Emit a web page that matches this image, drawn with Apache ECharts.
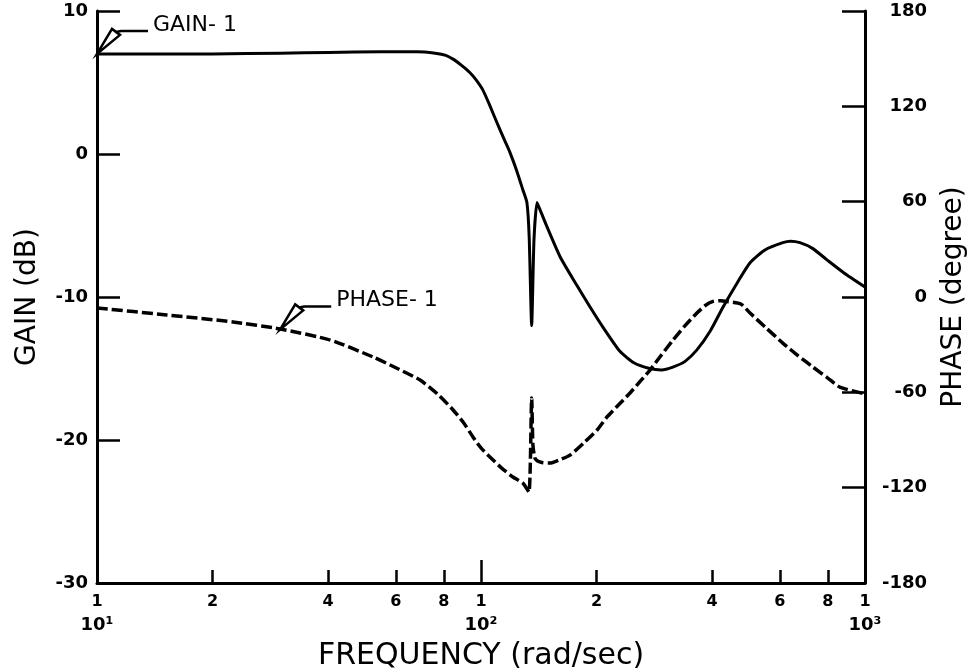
<!DOCTYPE html>
<html>
<head>
<meta charset="utf-8">
<script src="https://cdn.jsdelivr.net/npm/echarts@6/dist/echarts.min.js"></script>
<style>
  html, body { margin: 0; padding: 0; background: #fff; }
  #chart { width: 969px; height: 671px; }
</style>
</head>
<body>
<div id="chart"></div>
<script>
// 增益曲线 (rad/sec, dB)
var gainFreq = [10, 15, 20, 30, 40, 55, 68, 76, 81, 85, 89, 93.5, 97, 101, 105, 110, 115, 119, 124, 128.5,
    131.7, 133.5, 135.5, 137.4, 139.9, 142, 148.6, 160.8, 177.8, 192.3, 210, 230, 250, 275, 295, 316,
    340, 365, 395, 427, 465, 502, 550, 611, 640, 677, 730, 796, 880, 1000];
var gainDb = [7.0, 7.0, 7.0, 7.05, 7.1, 7.15, 7.15, 7.05, 6.9, 6.6, 6.2, 5.7, 5.2, 4.5, 3.5, 2.2, 1.0, 0.1, -1.2, -2.5,
    -3.4, -5.8, -12.0, -6.0, -3.4, -3.8, -5.1, -7.2, -9.2, -10.7, -12.3, -13.8, -14.6, -15.0, -15.1, -14.9,
    -14.5, -13.7, -12.4, -10.7, -9.0, -7.6, -6.7, -6.2, -6.1, -6.2, -6.6, -7.4, -8.3, -9.3];

// 相位曲线 (rad/sec, degree)
var phaseFreq = [10, 15.2, 22.6, 30, 40.5, 52.4, 60, 69.4, 77, 84.6, 90, 95.3, 100, 105.5, 113, 121.1, 128.5,
    133.3, 135.5, 136.5, 138, 140, 145, 151.2, 160, 170.6, 185, 200.6, 212.9, 228, 244.4, 260, 275.5, 295,
    316.2, 340, 365, 383, 402, 420, 437, 475, 502, 550, 611, 670, 732, 800, 860, 1000];
var phaseDeg = [-6.9, -11.3, -15.7, -20.1, -27.1, -37.8, -44.5, -52.3, -61, -71.1, -79, -88.1, -95, -100.7, -107.5,
    -113.3, -117.1, -122.7, -63.6, -93, -101, -103, -104.3, -104.5, -102.5, -99.5, -92, -83.7, -75.5, -68, -60.4,
    -53, -46.0, -36.5, -27.1, -18, -10.1, -5.5, -2.8, -2.3, -2.8, -4.4, -10.1, -19, -29.0, -37, -44.1, -51, -56.7, -61];

// 坐标轴刻度
var minorTicks = [20, 40, 60, 80, 200, 400, 600, 800];
var decadeTicks = [100];
var xLabelValues = [10, 20, 40, 60, 80, 100, 200, 400, 600, 800, 1000];
var supDigits = {1: '¹', 2: '²', 3: '³'};

// 标注
var annotations = [
    {text: 'GAIN- 1', freq: 10, value: 7.0, yAxisIndex: 0},
    {text: 'PHASE- 1', freq: 30, value: -20.4, yAxisIndex: 1}
];

var FONT = 'DejaVu Sans';
var BLACK = '#000';

function pairs(xs, ys) {
    return xs.map(function (x, i) { return [x, ys[i]]; });
}

function freqLabel(v) {
    var e = Math.round(Math.log10(v));
    var m = Math.round(v / Math.pow(10, Math.floor(Math.log10(v) + 1e-9)));
    if (Math.abs(v - Math.pow(10, e)) < 1e-6) {
        return '{a|1}\n{b|10' + supDigits[e] + '}';
    }
    return '{a|' + m + '}';
}

var chart = echarts.init(document.getElementById('chart'), null, {renderer: 'canvas'});

chart.setOption({
    animation: false,
    backgroundColor: '#fff',
    grid: {left: 97, right: 104, top: 11, bottom: 88, outerBoundsMode: 'none', containLabel: false},
    xAxis: [{
        type: 'log',
        logBase: 10,
        min: 10,
        max: 1000,
        position: 'bottom',
        name: 'FREQUENCY (rad/sec)',
        nameLocation: 'middle',
        nameGap: 58,
        nameTextStyle: {fontFamily: FONT, fontSize: 30, color: BLACK},
        axisLine: {show: true, onZero: false, lineStyle: {color: BLACK, width: 3}},
        axisTick: {show: true, inside: true, length: 13, customValues: minorTicks,
            lineStyle: {color: BLACK, width: 2.5}},
        axisLabel: {
            customValues: xLabelValues,
            margin: 8,
            formatter: freqLabel,
            rich: {
                a: {fontFamily: FONT, fontSize: 16, fontWeight: 'bold', color: BLACK, lineHeight: 22, align: 'center'},
                b: {fontFamily: FONT, fontSize: 18, fontWeight: 'bold', color: BLACK, lineHeight: 24, align: 'center'}
            }
        },
        splitLine: {show: false}
    }, {
        type: 'log',
        logBase: 10,
        min: 10,
        max: 1000,
        position: 'bottom',
        axisLine: {show: false, onZero: false},
        axisTick: {show: true, inside: true, length: 23, customValues: decadeTicks,
            lineStyle: {color: BLACK, width: 2.5}},
        axisLabel: {show: false},
        splitLine: {show: false}
    }],
    yAxis: [{
        type: 'value',
        min: -30,
        max: 10,
        interval: 10,
        position: 'left',
        name: 'GAIN (dB)',
        nameLocation: 'middle',
        nameGap: 55,
        nameTextStyle: {fontFamily: FONT, fontSize: 28, color: BLACK},
        axisLine: {show: true, lineStyle: {color: BLACK, width: 3}},
        axisTick: {show: true, inside: true, length: 23, lineStyle: {color: BLACK, width: 2.5}},
        axisLabel: {fontFamily: FONT, fontSize: 18, fontWeight: 'bold', color: BLACK, margin: 9},
        splitLine: {show: false}
    }, {
        type: 'value',
        min: -180,
        max: 180,
        interval: 60,
        position: 'right',
        name: 'PHASE (degree)',
        nameLocation: 'middle',
        nameGap: 75,
        nameTextStyle: {fontFamily: FONT, fontSize: 28, color: BLACK},
        axisLine: {show: true, lineStyle: {color: BLACK, width: 3}},
        axisTick: {show: true, inside: true, length: 23, lineStyle: {color: BLACK, width: 2.5}},
        axisLabel: {fontFamily: FONT, fontSize: 18, fontWeight: 'bold', color: BLACK, margin: 62, align: 'right'},
        splitLine: {show: false}
    }],
    series: [{
        name: 'GAIN- 1',
        type: 'line',
        xAxisIndex: 0,
        yAxisIndex: 0,
        data: pairs(gainFreq, gainDb),
        symbol: 'none',
        smooth: 0.2,
        lineStyle: {color: BLACK, width: 3, join: 'round'}
    }, {
        name: 'PHASE- 1',
        type: 'line',
        xAxisIndex: 0,
        yAxisIndex: 1,
        data: pairs(phaseFreq, phaseDeg),
        symbol: 'none',
        smooth: 0.2,
        lineStyle: {color: BLACK, width: 3.5, type: [11, 4], join: 'round'}
    }]
});

// 标注：箭头 + 引线 + 文字，位置由数据坐标换算
var graphics = [];
annotations.forEach(function (a) {
    var p = chart.convertToPixel({xAxisIndex: 0, yAxisIndex: a.yAxisIndex}, [a.freq, a.value]);
    var x = p[0], y = p[1];
    graphics.push({
        type: 'polygon',
        shape: {points: [[x, y], [x + 15, y - 25], [x + 23, y - 19]]},
        style: {fill: '#fff', stroke: BLACK, lineWidth: 2.5}
    });
    graphics.push({
        type: 'polyline',
        shape: {points: [[x + 19, y - 22], [x + 24, y - 23], [x + 51, y - 23]]},
        style: {stroke: BLACK, lineWidth: 2.5, fill: null}
    });
    graphics.push({
        type: 'text',
        x: x + 56,
        y: y - 29,
        style: {text: a.text, fontFamily: FONT, fontSize: 22, fill: BLACK,
            verticalAlign: 'middle', align: 'left'}
    });
});
chart.setOption({graphic: graphics});
</script>
</body>
</html>
